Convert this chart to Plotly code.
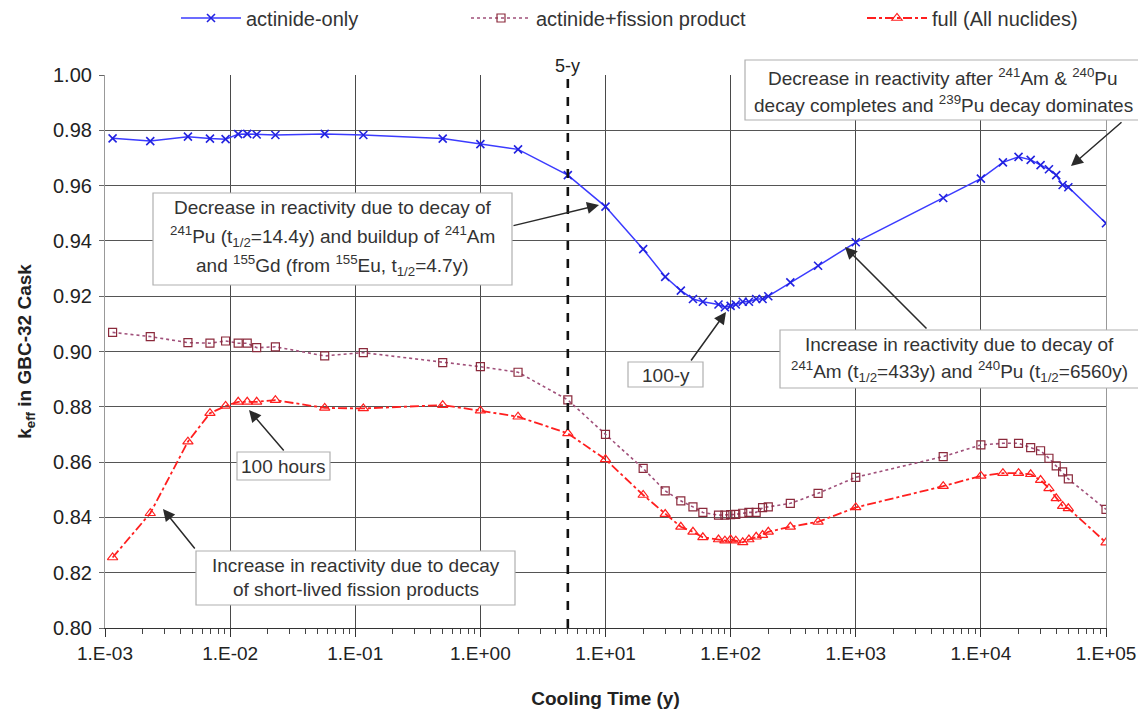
import plotly.graph_objects as go

# ---------------- data ----------------
cooling_time = [0.00115, 0.0023, 0.0046, 0.0069, 0.0092, 0.0116, 0.0137, 0.0163, 0.023, 0.057,
                0.116, 0.5, 1, 2, 5, 10, 20, 30, 40, 50,
                60, 80, 90, 100, 110, 125, 140, 160, 180, 200,
                300, 500, 1000, 5000, 10000, 15000, 20000, 25000, 30000, 35000,
                40000, 45000, 50000, 100000]

actinide_only = [0.9771, 0.9761, 0.9777, 0.9770, 0.9768, 0.9786, 0.9787, 0.9785, 0.9783, 0.9787,
                 0.9783, 0.9770, 0.9750, 0.9731, 0.9638, 0.9524, 0.9370, 0.9270, 0.9220, 0.9190,
                 0.9180, 0.9170, 0.9160, 0.9165, 0.9170, 0.9180, 0.9180, 0.9190, 0.9190, 0.9200,
                 0.9250, 0.9310, 0.9395, 0.9555, 0.9625, 0.9684, 0.9704, 0.9693, 0.9674, 0.9659,
                 0.9638, 0.9602, 0.9594, 0.9464]

actinide_fp = [0.9069, 0.9054, 0.9032, 0.9030, 0.9038, 0.9030, 0.9030, 0.9014, 0.9017, 0.8984,
               0.8996, 0.8960, 0.8945, 0.8925, 0.8825, 0.8700, 0.8577, 0.8496, 0.8460, 0.8438,
               0.8418, 0.8408, 0.8408, 0.8410, 0.8411, 0.8415, 0.8418, 0.8418, 0.8435, 0.8438,
               0.8451, 0.8487, 0.8545, 0.8620, 0.8662, 0.8668, 0.8668, 0.8652, 0.8641, 0.8614,
               0.8586, 0.8565, 0.8539, 0.8429]

full_all = [0.8255, 0.8415, 0.8674, 0.8777, 0.8803, 0.8818, 0.8818, 0.8818, 0.8824, 0.8796,
            0.8794, 0.8806, 0.8786, 0.8764, 0.8704, 0.8610, 0.8481, 0.8412, 0.8366, 0.8348,
            0.8328, 0.8320, 0.8316, 0.8320, 0.8316, 0.8310, 0.8320, 0.8330, 0.8336, 0.8348,
            0.8366, 0.8384, 0.8436, 0.8513, 0.8550, 0.8560, 0.8560, 0.8556, 0.8535, 0.8505,
            0.8469, 0.8441, 0.8433, 0.8309]

x_tickvals = [1e-3, 1e-2, 1e-1, 1e0, 1e1, 1e2, 1e3, 1e4, 1e5]
x_ticktext = ["1.E-03", "1.E-02", "1.E-01", "1.E+00", "1.E+01", "1.E+02", "1.E+03", "1.E+04", "1.E+05"]
x_minor = [m * 10 ** e for e in range(-3, 5) for m in range(2, 10)]
five_year = 5

# ---------------- layout helpers ----------------
# The page body has an 8px margin, so the figure is drawn offset by 8px.
OFF = 8
W, H = 1146 - OFF, 715 - OFF
PL, PR, PT, PB = 105, 1106, 75, 628   # plot area in screen pixels
FONT = "Liberation Sans"


def fx(p):
    return (p - PL) / (PR - PL)


def fy(p):
    return (PB - p) / (PB - PT)


fig = go.Figure()

fig.add_trace(go.Scatter(
    x=cooling_time, y=actinide_only, name="actinide-only", mode="lines+markers",
    line=dict(color="#3b3bff", width=1.5),
    marker=dict(symbol="x-thin", size=8, line=dict(color="#2222e0", width=1.6)),
    legend="legend", showlegend=True))
fig.add_trace(go.Scatter(
    x=cooling_time, y=actinide_fp, name="actinide+fission product", mode="lines+markers",
    line=dict(color="#a0507a", width=1.6, dash="dot"),
    marker=dict(symbol="square-open", size=8, color="#8b2a3c", line=dict(width=1.2)),
    legend="legend2", showlegend=True))
fig.add_trace(go.Scatter(
    x=cooling_time, y=full_all, name="full (All nuclides)", mode="lines+markers",
    line=dict(color="#ff1f1f", width=1.8, dash="dashdot"),
    marker=dict(symbol="triangle-up-open", size=9, color="#ff1f1f", line=dict(width=1.2)),
    legend="legend3", showlegend=True))

shapes = []
annotations = []

# 5-year dashed line
shapes.append(dict(type="line", xref="x", yref="paper", x0=five_year, x1=five_year, y0=0, y1=1,
                   line=dict(color="#111", width=2.6, dash="dash"), layer="above"))
annotations.append(dict(text="5-y", xref="x", yref="paper", x=0.70, y=fy(66), showarrow=False,
                        font=dict(family=FONT, size=18, color="#222"), yanchor="middle"))


def box(x0, y0, x1, y1, lines, line_ys, size=19):
    shapes.append(dict(type="rect", xref="paper", yref="paper", x0=fx(x0), x1=fx(x1),
                       y0=fy(y1), y1=fy(y0), line=dict(color="#b0b0b0", width=1.2),
                       fillcolor="white", layer="above"))
    cx = (x0 + x1) / 2
    for t, ly in zip(lines, line_ys):
        annotations.append(dict(text=t, xref="paper", yref="paper", x=fx(cx), y=fy(ly),
                                showarrow=False, xanchor="center", yanchor="middle",
                                font=dict(family=FONT, size=size, color="#333")))


def arrow(tail, head):
    annotations.append(dict(text="", xref="paper", yref="paper", x=fx(head[0]), y=fy(head[1]),
                            ax=tail[0] - head[0], ay=tail[1] - head[1], axref="pixel", ayref="pixel",
                            showarrow=True, arrowhead=2, arrowsize=1.6, arrowwidth=1.5,
                            arrowcolor="#2a2a2a"))


box(153, 193, 512, 285,
    ["Decrease in reactivity due to decay of",
     "<sup>241</sup>Pu (t<sub>1/2</sub>=14.4y) and buildup of <sup>241</sup>Am",
     "and <sup>155</sup>Gd (from <sup>155</sup>Eu, t<sub>1/2</sub>=4.7y)"],
    [208, 236, 265])
arrow((512, 226), (599, 205))

box(745, 60, 1141, 120,
    ["Decrease in reactivity after <sup>241</sup>Am &amp; <sup>240</sup>Pu",
     "decay completes and <sup>239</sup>Pu decay dominates"],
    [77, 104])
arrow((1123, 121), (1071, 166))

box(780, 330, 1139, 388,
    ["Increase in reactivity due to decay of",
     "<sup>241</sup>Am (t<sub>1/2</sub>=433y) and <sup>240</sup>Pu (t<sub>1/2</sub>=6560y)"],
    [344, 371])
arrow((928, 330), (845, 247))

box(628, 362, 703, 387, ["100-y"], [375])
arrow((690, 362), (726, 312))

box(237, 452, 330, 480, ["100 hours"], [466])
arrow((285, 452), (249, 410))

box(196, 551, 515, 605,
    ["Increase in reactivity due to decay",
     "of short-lived fission products"],
    [565, 589])
arrow((196, 550), (163, 509))

legend_common = dict(orientation="h", yanchor="middle", xanchor="left", y=fy(18),
                     font=dict(family=FONT, size=20, color="#333"), bgcolor="rgba(0,0,0,0)",
                     itemwidth=60)

fig.update_layout(
    width=W, height=H,
    margin=dict(l=PL - OFF, r=W - (PR - OFF), t=PT - OFF, b=H - (PB - OFF), autoexpand=False),
    paper_bgcolor="white", plot_bgcolor="white",
    font=dict(family=FONT, size=18, color="#222"),
    showlegend=True,
    legend=dict(x=fx(176), **legend_common),
    legend2=dict(x=fx(466), **legend_common),
    legend3=dict(x=fx(862), **legend_common),
    shapes=shapes, annotations=annotations,
    xaxis=dict(type="log", range=[-3, 5], tickvals=x_tickvals, ticktext=x_ticktext,
               showgrid=True, gridcolor="#4a4a4a", gridwidth=1,
               showline=True, linecolor="#333", linewidth=1.2, mirror=False,
               ticks="outside", ticklen=8, tickcolor="#333",
               minor=dict(tickvals=x_minor, ticks="outside", ticklen=5, tickcolor="#444", showgrid=False),
               tickfont=dict(family=FONT, size=19, color="#222"),
               title=dict(text="<b>Cooling Time (y)</b>", font=dict(family=FONT, size=19, color="#222"),
                          standoff=28),
               zeroline=False, automargin=False),
    yaxis=dict(range=[0.80, 1.00], dtick=0.02, tickformat=".2f",
               showgrid=True, gridcolor="#555", gridwidth=1,
               showline=True, linecolor="#999", linewidth=1.2, mirror=True,
               ticks="outside", ticklen=5, tickcolor="#666", ticklabelstandoff=3,
               tickfont=dict(family=FONT, size=20, color="#222"),
               title=dict(text="<b>k<sub>eff</sub> in GBC-32 Cask</b>",
                          font=dict(family=FONT, size=19, color="#222"), standoff=16),
               zeroline=False, automargin=False),
)

fig.write_html("out.html")
